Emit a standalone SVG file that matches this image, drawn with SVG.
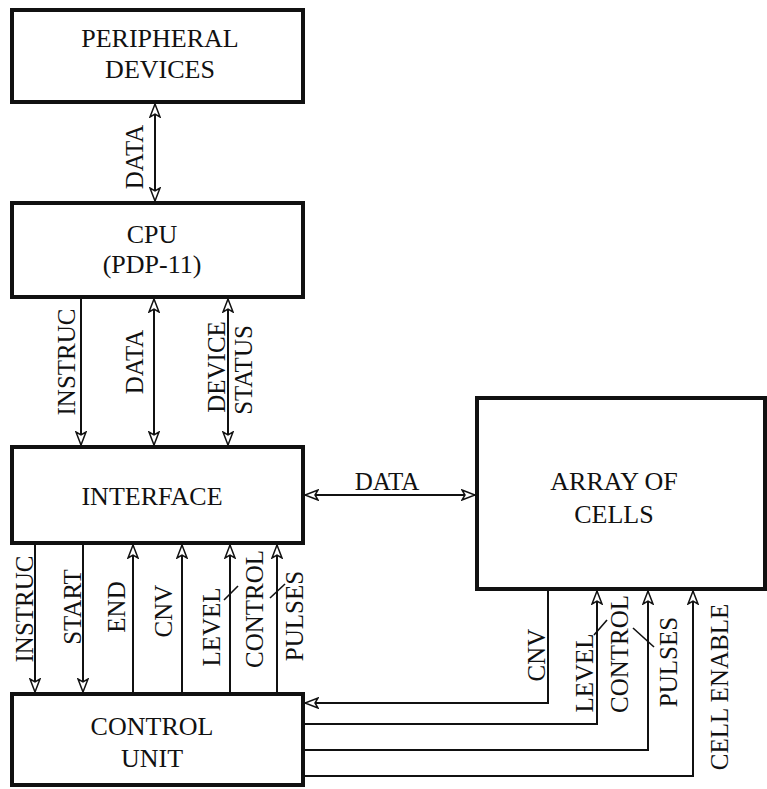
<svg xmlns="http://www.w3.org/2000/svg" width="767" height="789" viewBox="0 0 767 789">
<defs>
<marker id="a" markerUnits="userSpaceOnUse" markerWidth="16" markerHeight="12" refX="13" refY="5" orient="auto-start-reverse" viewBox="-1 -1 16 12">
<path d="M0,0 L13,5 L0,10 L3,5 z" fill="#fff" stroke="#111" stroke-width="1.5"/>
</marker>
</defs>
<rect width="767" height="789" fill="#fff"/>
<g id="peripheral">
<rect x="12" y="10" width="291" height="92" fill="#fff" stroke="#111" stroke-width="4"/>
<text x="160" y="47" font-family="Liberation Serif" font-size="26" text-anchor="middle" fill="#111">PERIPHERAL</text>
<text x="160" y="78" font-family="Liberation Serif" font-size="26" text-anchor="middle" fill="#111">DEVICES</text>
</g>
<g id="cpu">
<rect x="12" y="203" width="291" height="94" fill="#fff" stroke="#111" stroke-width="4"/>
<text x="152" y="243" font-family="Liberation Serif" font-size="26" text-anchor="middle" fill="#111">CPU</text>
<text x="152" y="273" font-family="Liberation Serif" font-size="26" text-anchor="middle" fill="#111">(PDP-11)</text>
</g>
<g id="interface">
<rect x="12" y="447" width="291" height="96" fill="#fff" stroke="#111" stroke-width="4"/>
<text x="152" y="505" font-family="Liberation Serif" font-size="26" text-anchor="middle" fill="#111">INTERFACE</text>
</g>
<g id="control">
<rect x="12" y="694" width="291" height="91" fill="#fff" stroke="#111" stroke-width="4"/>
<text x="152" y="735" font-family="Liberation Serif" font-size="26" text-anchor="middle" fill="#111">CONTROL</text>
<text x="152" y="767" font-family="Liberation Serif" font-size="26" text-anchor="middle" fill="#111">UNIT</text>
</g>
<g id="array">
<rect x="477" y="398" width="288" height="191" fill="#fff" stroke="#111" stroke-width="4"/>
<text x="614" y="490" font-family="Liberation Serif" font-size="26" text-anchor="middle" fill="#111">ARRAY OF</text>
<text x="614" y="523" font-family="Liberation Serif" font-size="26" text-anchor="middle" fill="#111">CELLS</text>
</g>
<g id="connectors" fill="none" stroke="#111" stroke-width="2">
<line x1="155" y1="104" x2="155" y2="201" marker-start="url(#a)" marker-end="url(#a)"/>
<line x1="81" y1="299" x2="81" y2="445" marker-end="url(#a)"/>
<line x1="154" y1="299" x2="154" y2="445" marker-start="url(#a)" marker-end="url(#a)"/>
<line x1="228" y1="299" x2="228" y2="445" marker-start="url(#a)" marker-end="url(#a)"/>
<line x1="305" y1="495" x2="475" y2="495" marker-start="url(#a)" marker-end="url(#a)"/>
<line x1="35" y1="545" x2="35" y2="692" marker-end="url(#a)"/>
<line x1="83" y1="545" x2="83" y2="692" marker-end="url(#a)"/>
<line x1="133" y1="692" x2="133" y2="545" marker-end="url(#a)"/>
<line x1="182" y1="692" x2="182" y2="545" marker-end="url(#a)"/>
<line x1="230" y1="692" x2="230" y2="545" marker-end="url(#a)"/>
<line x1="277" y1="692" x2="277" y2="545" marker-end="url(#a)"/>
<line x1="224" y1="600" x2="238" y2="586" stroke-width="1.6"/>
<line x1="270" y1="598" x2="285" y2="584" stroke-width="1.6"/>
<polyline points="548,591 548,703 305,703" marker-end="url(#a)"/>
<polyline points="305,724 597,724 597,591" marker-end="url(#a)"/>
<polyline points="305,750 648,750 648,591" marker-end="url(#a)"/>
<polyline points="305,776 693,776 693,591" marker-end="url(#a)"/>
<line x1="594" y1="635" x2="607" y2="620" stroke-width="1.6"/>
<line x1="633" y1="628" x2="654" y2="647" stroke-width="1.6"/>
</g>
<g id="labels">
<text font-family="Liberation Serif" font-size="25" text-anchor="middle" fill="#111" transform="translate(143,157) rotate(-90)">DATA</text>
<text font-family="Liberation Serif" font-size="25" text-anchor="middle" fill="#111" transform="translate(75,362) rotate(-90)">INSTRUC</text>
<text font-family="Liberation Serif" font-size="25" text-anchor="middle" fill="#111" transform="translate(143,362) rotate(-90)">DATA</text>
<text font-family="Liberation Serif" font-size="25" text-anchor="middle" fill="#111" transform="translate(225,367) rotate(-90)">DEVICE</text>
<text font-family="Liberation Serif" font-size="25" text-anchor="middle" fill="#111" transform="translate(252,370) rotate(-90)">STATUS</text>
<text font-family="Liberation Serif" font-size="25" text-anchor="middle" fill="#111" x="387" y="490">DATA</text>
<text font-family="Liberation Serif" font-size="25" text-anchor="middle" fill="#111" transform="translate(33,609) rotate(-90)">INSTRUC</text>
<text font-family="Liberation Serif" font-size="25" text-anchor="middle" fill="#111" transform="translate(81,607) rotate(-90)">START</text>
<text font-family="Liberation Serif" font-size="25" text-anchor="middle" fill="#111" transform="translate(125,607) rotate(-90)">END</text>
<text font-family="Liberation Serif" font-size="25" text-anchor="middle" fill="#111" transform="translate(172,611) rotate(-90)">CNV</text>
<text font-family="Liberation Serif" font-size="25" text-anchor="middle" fill="#111" transform="translate(220,627) rotate(-90)">LEVEL</text>
<text font-family="Liberation Serif" font-size="25" text-anchor="middle" fill="#111" transform="translate(263,609) rotate(-90)">CONTROL</text>
<text font-family="Liberation Serif" font-size="25" text-anchor="middle" fill="#111" transform="translate(303,616) rotate(-90)">PULSES</text>
<text font-family="Liberation Serif" font-size="25" text-anchor="middle" fill="#111" transform="translate(545,655) rotate(-90)">CNV</text>
<text font-family="Liberation Serif" font-size="25" text-anchor="middle" fill="#111" transform="translate(593,673) rotate(-90)">LEVEL</text>
<text font-family="Liberation Serif" font-size="25" text-anchor="middle" fill="#111" transform="translate(628,654) rotate(-90)">CONTROL</text>
<text font-family="Liberation Serif" font-size="25" text-anchor="middle" fill="#111" transform="translate(677,662) rotate(-90)">PULSES</text>
<text font-family="Liberation Serif" font-size="25" text-anchor="middle" fill="#111" transform="translate(728,687) rotate(-90)">CELL ENABLE</text>
</g>
</svg>
